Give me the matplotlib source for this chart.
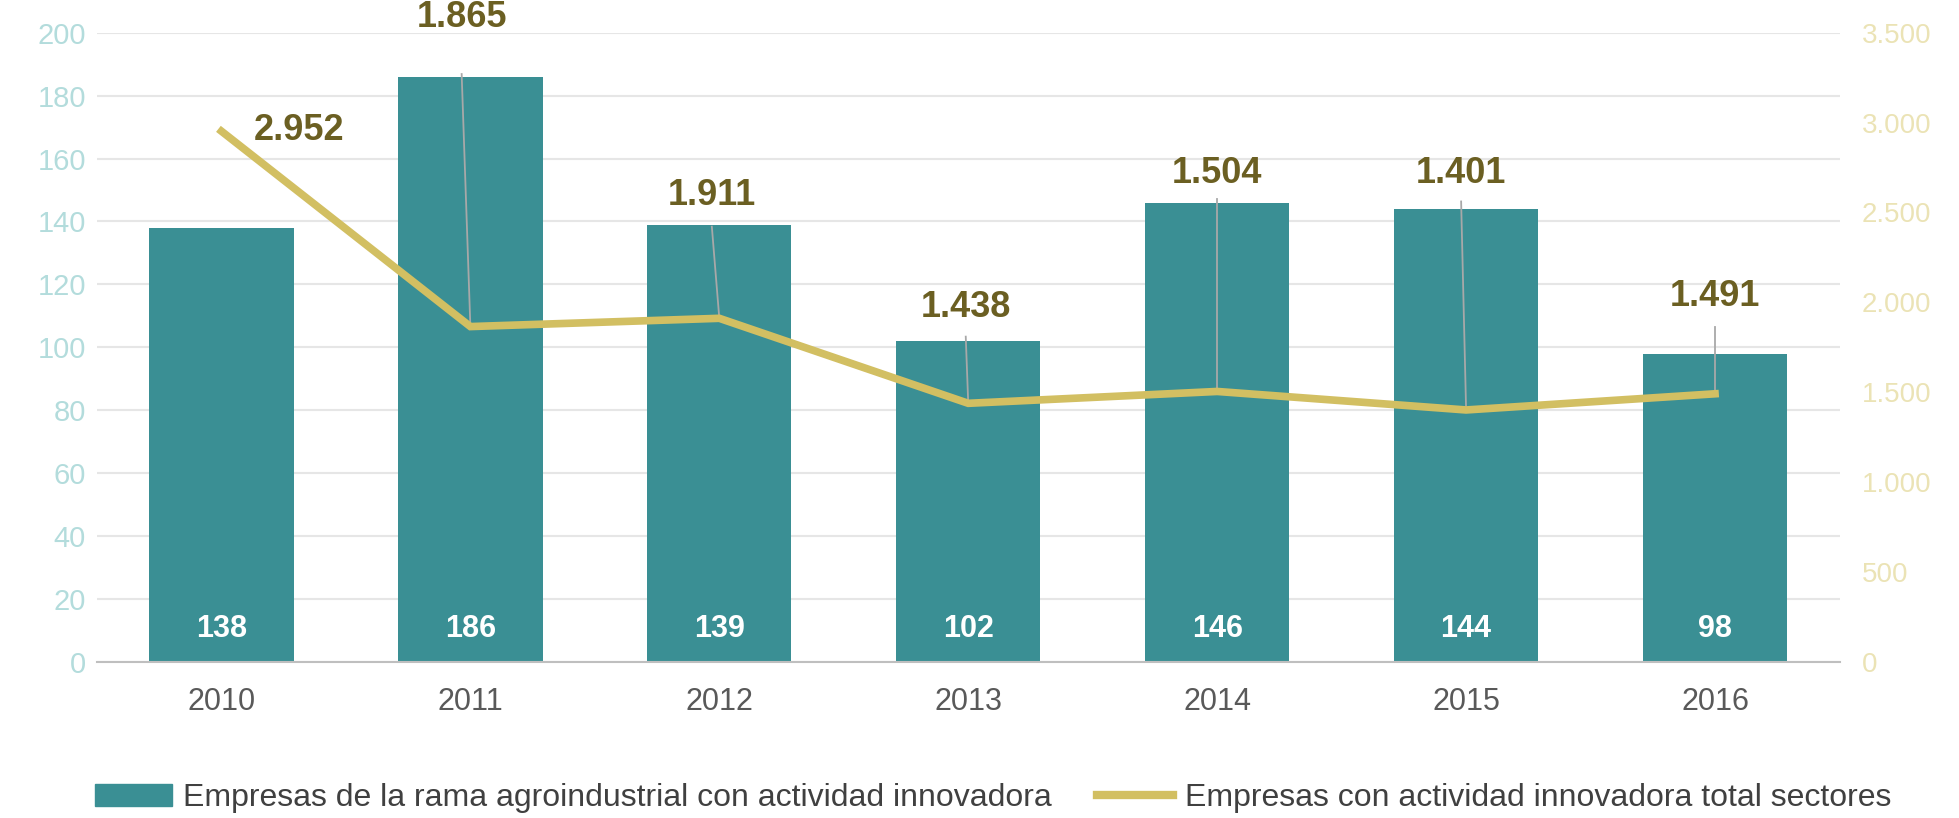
import matplotlib
matplotlib.use("Agg")
import matplotlib.pyplot as plt
from matplotlib.ticker import FuncFormatter
from matplotlib.patches import Patch
from matplotlib.lines import Line2D

plt.rcParams['font.family'] = ['Liberation Sans', 'DejaVu Sans']

years = ["2010", "2011", "2012", "2013", "2014", "2015", "2016"]
agro = [138, 186, 139, 102, 146, 144, 98]
total = [2952, 1865, 1911, 1438, 1504, 1401, 1491]
total_labels = ["2.952", "1.865", "1.911", "1.438", "1.504", "1.401", "1.491"]
left_ticks = [0, 20, 40, 60, 80, 100, 120, 140, 160, 180, 200]
right_ticks = [0, 500, 1000, 1500, 2000, 2500, 3000, 3500]

legend_bar = "Empresas de la rama agroindustrial con actividad innovadora"
legend_line = "Empresas con actividad innovadora total sectores"

# label placement (layout): (dx, label_y, leader_top_y) in right-axis units
label_pos = [(0.31, 2957, None), (-0.035, 3583, 3270), (-0.03, 2595, 2421),
             (-0.01, 1969, 1809), (0.0, 2714, 2575), (-0.02, 2714, 2561),
             (0.0, 2032, 1865)]

BAR = "#3a8f94"
LINE = "#d2bf62"
LBL = "#6b5f22"

fig = plt.figure(figsize=(19.59, 8.18), dpi=100)
ax = fig.add_axes([0.0495, 0.191, 0.8895, 0.769])
ax2 = ax.twinx()
ax.set_zorder(1)
ax2.set_zorder(2)

x = list(range(len(years)))
ax.bar(x, agro, width=0.58, color=BAR, zorder=2)
for xi, v in zip(x, agro):
    ax.text(xi, 10.3, str(v), ha='center', va='center', color='white',
            fontsize=22, fontweight='bold', zorder=3)

ax.set_ylim(0, 200)
ax.set_xlim(-0.5, 6.5)
ax.set_yticks(left_ticks)
ax.yaxis.grid(True, color="#e6e6e6", linewidth=1.5, zorder=0)
ax.set_axisbelow(True)
ax.set_xticks(x)
ax.set_xticklabels(years)
ax.tick_params(axis='x', length=0, pad=18, labelsize=22, labelcolor="#595959")
ax.tick_params(axis='y', length=0, pad=8, labelsize=21, labelcolor="#b3dcdc")
for s in ['top', 'left', 'right']:
    ax.spines[s].set_visible(False)
ax.spines['bottom'].set_color("#bfbfbf")
ax.spines['bottom'].set_linewidth(1.5)

ax2.plot(x, total, color=LINE, linewidth=5.5, solid_joinstyle='miter', zorder=3)
ax2.set_ylim(0, 3500)
ax2.set_yticks(right_ticks)
ax2.yaxis.set_major_formatter(FuncFormatter(lambda v, p: f"{int(v):,}".replace(",", ".")))
ax2.tick_params(axis='y', length=0, pad=16, labelsize=20, labelcolor="#ebe3b5")
for s in ['top', 'left', 'right', 'bottom']:
    ax2.spines[s].set_visible(False)

for xi, v, lab, (dx, ly, lt) in zip(x, total, total_labels, label_pos):
    if lt is not None:
        ax2.plot([xi + dx, xi], [lt, v], color="#a8a8a8", linewidth=1.3, zorder=2)
    ax2.text(xi + dx, ly, lab, ha='center', va='center', color=LBL,
             fontsize=26, fontweight='bold', clip_on=False, zorder=4)

handles = [Patch(color=BAR), Line2D([0], [0], color=LINE, linewidth=6)]
fig.legend(handles, [legend_bar, legend_line], loc='center', bbox_to_anchor=(0.507, 0.0245),
           ncol=2, frameon=False, fontsize=23, labelcolor="#404040",
           handlelength=2.4, handletextpad=0.35, columnspacing=1.4,
           borderpad=0, borderaxespad=0)

fig.savefig("out.png", dpi=100)
